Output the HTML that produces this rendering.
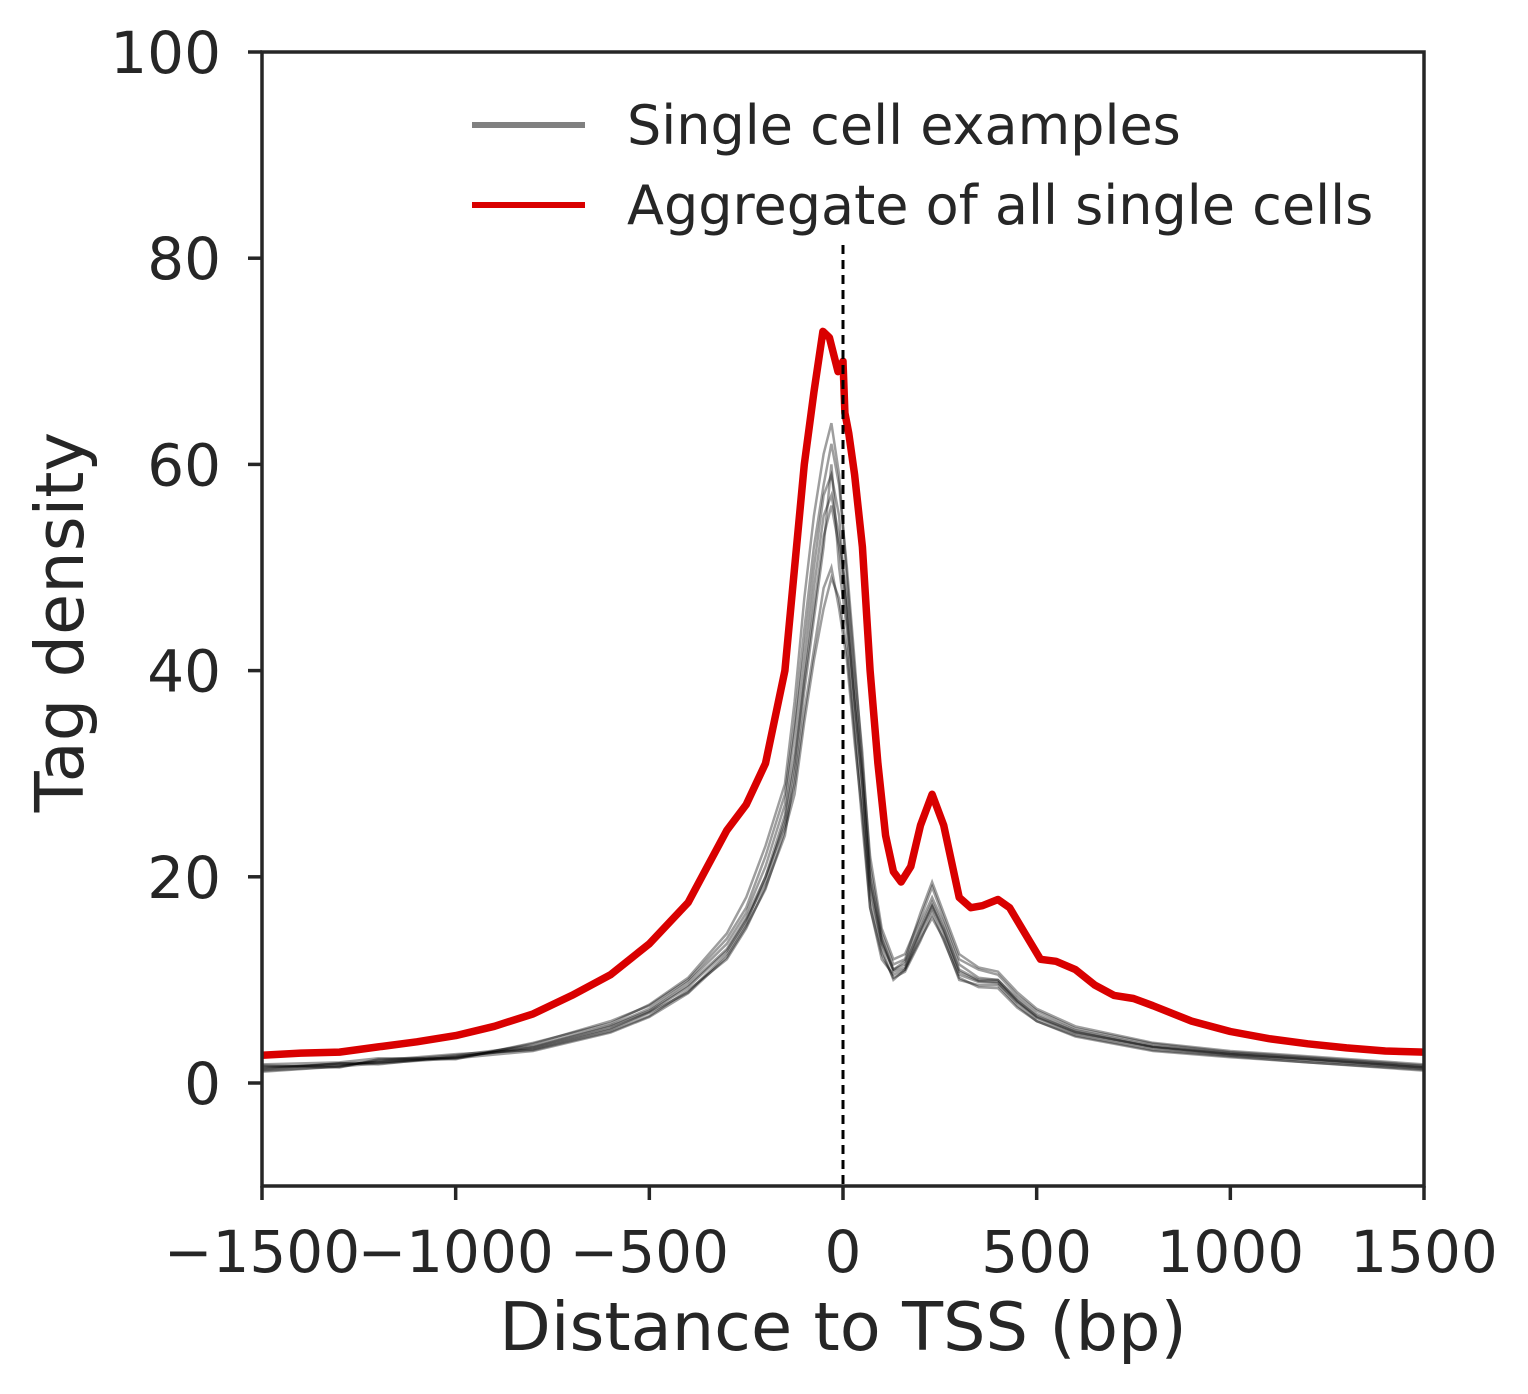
<!DOCTYPE html>
<html><head><meta charset="utf-8"><style>
html,body{margin:0;padding:0;background:#fff;}
svg{display:block;font-family:"DejaVu Sans","Liberation Sans",sans-serif;}
</style></head><body>
<svg id="chart" width="1528" height="1394" viewBox="0 0 1528 1394">
<g id="series"></g>
<line x1="843" y1="245" x2="843" y2="1186" stroke="#000" stroke-width="3" stroke-dasharray="9,6"/>
<rect x="262" y="52" width="1162" height="1134" fill="none" stroke="#262626" stroke-width="3.5"/>
<g id="axes"></g>
<text x="843" y="1350" font-size="67" fill="#262626" text-anchor="middle">Distance to TSS (bp)</text>
<text transform="translate(83,622) rotate(-90)" font-size="67" fill="#262626" text-anchor="middle">Tag density</text>
<g>
<g>
<line x1="472" y1="125" x2="585" y2="125" stroke="#808080" stroke-width="6"/>
<text x="627" y="144" font-size="54" fill="#262626">Single cell examples</text>
</g>
<g>
<line x1="472" y1="205" x2="585" y2="205" stroke="#d90000" stroke-width="6"/>
<text x="627" y="224" font-size="54" fill="#262626">Aggregate of all single cells</text>
</g>
</g>
</svg>
<script>
const redX = [-1500,-1400,-1300,-1200,-1100,-1000,-900,-800,-700,-600,-500,-400,-350,-300,-250,-200,-150,-125,-100,-75,-52,-35,-13,0,5,15,30,50,70,90,110,130,150,175,200,230,260,300,330,360,400,430,470,510,550,600,650,700,750,800,900,1000,1100,1200,1300,1400,1500];
const redY = [2.7,2.9,3.0,3.5,4.0,4.6,5.5,6.7,8.5,10.5,13.5,17.5,21,24.5,27,31,40,50,60,67,72.9,72.3,69,70,65,63,59,52,40,31,24,20.5,19.5,21,25,28,25,18,17,17.2,17.8,17,14.5,12,11.8,11,9.5,8.5,8.2,7.5,6,5,4.3,3.8,3.4,3.1,3.0];
const grayX = [-1500,-1300,-1200,-1000,-800,-600,-500,-400,-300,-250,-200,-150,-125,-100,-75,-50,-30,-10,10,30,50,70,100,130,160,200,230,260,300,350,400,450,500,600,800,1000,1200,1500];
const grayA = [1.5,1.8,2.0,2.5,3.5,5.5,7.0,9.5,13,16,20,26,32,40,48,55,57,53,47,38,30,20,14,11,11.5,15,17.5,15,11,10,10,8,6.5,5,3.5,2.8,2.3,1.5];
const grayB = [1.2,1.6,2.2,2.8,3.2,5.0,6.5,9.0,12,15,19,24,30,38,45,52,60,50,44,35,27,18,13,10,11,14,16,14,10,9.5,9.5,7.5,6,4.6,3.2,2.6,2.0,1.3];
const grayC = [1.8,2.0,2.4,2.4,3.8,6.0,7.5,10,14,17,22,28,35,44,52,58,62,58,50,41,31,22,15,12,12.5,16,19,16,12,11,10.5,8.5,7,5.3,3.8,3.0,2.5,1.7];
const grayD = [1.4,1.9,1.8,2.6,3.3,5.2,6.8,8.8,12.5,15.5,20,25,29,36,42,48,50,46,41,33,26,17,12,10.5,11,14.5,17,14.5,10.5,9.8,9.7,7.8,6.3,4.8,3.4,2.7,2.2,1.4];
const grayE = [1.6,1.7,2.1,2.7,3.6,5.6,7.2,9.8,13.5,16.5,21,27,34,42,50,57,59,55,45,37,29,19,13.5,11,11.8,15.5,18,15.5,11.5,10.2,10,8.2,6.7,5.1,3.6,2.9,2.4,1.6];
const grayF = [1.3,1.9,2.0,2.5,3.4,5.3,6.9,9.3,12.8,15.8,19.5,25.5,31,39,46,53,56,52,46,37,29,19.5,13.8,10.8,11.2,14.8,17.2,14.8,10.8,9.9,9.8,7.9,6.4,4.9,3.5,2.8,2.3,1.5];
const grayG = [1.7,1.5,2.3,2.3,3.9,5.8,7.6,10.2,14.5,18,23,29,37,47,55,61,64,59,49,40,32,21,14.5,11.5,12,16.5,19.5,16.5,12.5,11.2,10.8,8.8,7.2,5.5,3.9,3.1,2.6,1.8];
const grayH = [1.1,1.6,1.9,2.4,3.1,4.9,6.4,8.7,12.2,15.2,18.8,24.5,28,35,41,46,49,47,42,34,25,17,12.5,10.2,10.8,13.8,16.5,13.8,10.2,9.3,9.2,7.3,6.0,4.5,3.1,2.5,2.0,1.2];
const xTicks = [-1500,-1000,-500,0,500,1000,1500];
const xTickLabels = ["\u22121500","\u22121000","\u2212500","0","500","1000","1500"];
const yTicks = [0,20,40,60,80,100];
const yTickLabels = ["0","20","40","60","80","100"];

const NS = "http://www.w3.org/2000/svg";
function sx(v){ return 262 + (v + 1500) / 3000 * 1162; }
function sy(v){ return 1083 - v * 10.31; }
function pathFrom(xs, ys){ return xs.map((x,i)=>(i?'L':'M')+sx(x).toFixed(1)+','+sy(ys[i]).toFixed(1)).join(''); }

const series = document.getElementById('series');
const grays = [grayA, grayB, grayC, grayD, grayE, grayF, grayG, grayH];
grays.forEach((g, i) => {
  const p = document.createElementNS(NS, 'path');
  p.setAttribute('d', pathFrom(grayX, g));
  p.setAttribute('fill', 'none');
  p.setAttribute('stroke', '#000');
  p.setAttribute('stroke-opacity', '0.38');
  p.setAttribute('stroke-width', '2.5');
  
  
  series.appendChild(p);
});
const red = document.createElementNS(NS, 'path');
red.setAttribute('d', pathFrom(redX, redY));
red.setAttribute('fill', 'none');
red.setAttribute('stroke', '#d90000');
red.setAttribute('stroke-width', '7.5');
red.setAttribute('stroke-linejoin', 'round');


series.appendChild(red);

const axes = document.getElementById('axes');
xTicks.forEach((v, i) => {
  const l = document.createElementNS(NS, 'line');
  l.setAttribute('x1', sx(v)); l.setAttribute('x2', sx(v));
  l.setAttribute('y1', 1186); l.setAttribute('y2', 1200);
  l.setAttribute('stroke', '#262626'); l.setAttribute('stroke-width', '3.5');
  
  
  axes.appendChild(l);
  const t = document.createElementNS(NS, 'text');
  t.setAttribute('x', sx(v)); t.setAttribute('y', 1272);
  t.setAttribute('font-size', '58'); t.setAttribute('fill', '#262626');
  t.setAttribute('text-anchor', 'middle');
  t.textContent = xTickLabels[i];
  
  
  axes.appendChild(t);
});
yTicks.forEach((v, i) => {
  const l = document.createElementNS(NS, 'line');
  l.setAttribute('x1', 248); l.setAttribute('x2', 262);
  l.setAttribute('y1', sy(v)); l.setAttribute('y2', sy(v));
  l.setAttribute('stroke', '#262626'); l.setAttribute('stroke-width', '3.5');
  
  
  axes.appendChild(l);
  const t = document.createElementNS(NS, 'text');
  t.setAttribute('x', 221); t.setAttribute('y', sy(v) + 21);
  t.setAttribute('font-size', '58'); t.setAttribute('fill', '#262626');
  t.setAttribute('text-anchor', 'end');
  t.textContent = yTickLabels[i];
  
  
  axes.appendChild(t);
});
</script>
</body></html>
